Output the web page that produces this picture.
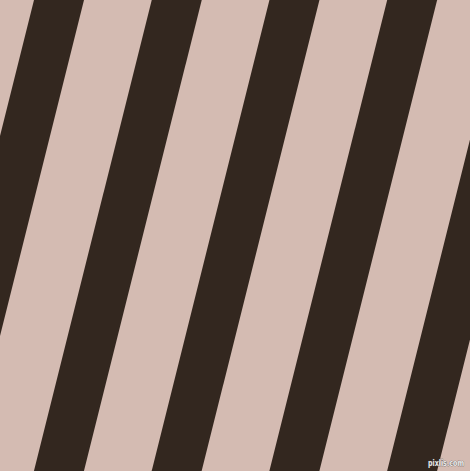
<!DOCTYPE html>
<html>
<head>
<meta charset="utf-8">
<script src="https://cdn.jsdelivr.net/npm/d3@7"></script>
<style>
  html, body { margin: 0; padding: 0; background: #d4bbb2; }
  svg { display: block; }
</style>
</head>
<body>
<div id="chart"></div>
<script>
// stripe pattern values
const stripeIndex = [-1, 0, 1, 2, 3, 4, 5];
const stripeColors = ['#33271f', '#d4bbb2'];
const stripeWidths = [48.5, 65.7];
const stripeAngle = 14.04;
const stripeOffset = 33;
const watermark = ['pixlis.com'];

const width = 470;
const height = 471;

const svg = d3
  .select('#chart')
  .append('svg')
  .attr('width', width)
  .attr('height', height)
  .attr('viewBox', [0, 0, width, height]);

svg
  .append('rect')
  .attr('width', width)
  .attr('height', height)
  .attr('fill', stripeColors[1]);

const period = d3.sum(stripeWidths);
const x = d3
  .scaleLinear()
  .domain([0, 1])
  .range([stripeOffset, stripeOffset + period]);

const g = svg.append('g').attr('transform', `rotate(${stripeAngle})`);

g.selectAll('rect.dark')
  .data(stripeIndex)
  .join('rect')
  .attr('class', 'dark')
  .attr('x', (d) => x(d))
  .attr('y', -200)
  .attr('width', stripeWidths[0])
  .attr('height', 800)
  .attr('fill', stripeColors[0]);

svg
  .selectAll('text.mark')
  .data(watermark)
  .join('text')
  .attr('class', 'mark')
  .attr('x', 464)
  .attr('y', 466)
  .attr('text-anchor', 'end')
  .attr('font-family', 'DejaVu Sans, sans-serif')
  .attr('font-size', 9)
  .attr('font-weight', 'bold')
  .attr('textLength', 36)
  .attr('lengthAdjust', 'spacingAndGlyphs')
  .attr('fill', '#e6e6e6')
  .attr('stroke', '#444')
  .attr('stroke-width', 0.6)
  .attr('paint-order', 'stroke')
  .text((d) => d);
</script>
</body>
</html>
